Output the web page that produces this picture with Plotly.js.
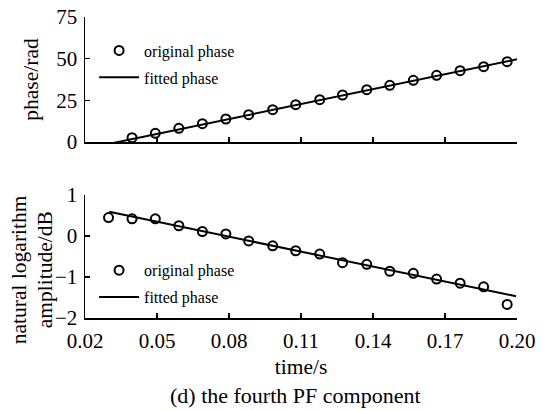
<!DOCTYPE html>
<html>
<head>
<meta charset="utf-8">
<script src="https://cdn.plot.ly/plotly-3.0.1.min.js"></script>
<style>html,body{margin:0;padding:0;background:#fff;}#chart{width:543px;height:410px;}</style>
</head>
<body>
<div id="chart"></div>
<script>
// time samples (s)
var timeAll = [0.0298, 0.0396, 0.0493, 0.0591, 0.0689, 0.0787, 0.0882, 0.0982, 0.1078, 0.1178, 0.1273, 0.1374, 0.1470, 0.1568, 0.1665, 0.1763, 0.1861, 0.1959];
// phase panel: original points (first sample hidden below axis, not shown)
var timePhase = timeAll.slice(1);
var phaseOriginal = [2.6, 5.2, 8.2, 11.0, 13.8, 16.4, 19.4, 22.4, 25.4, 28.2, 31.4, 34.0, 37.0, 40.0, 42.8, 45.2, 48.2];
var fitPhaseTime = [0.0304, 0.2000];
var fitPhaseValue = [-1.0, 49.6];
// log amplitude panel
var ampOriginal = [0.45, 0.42, 0.42, 0.25, 0.11, 0.05, -0.12, -0.24, -0.36, -0.44, -0.65, -0.69, -0.86, -0.91, -1.05, -1.15, -1.24, -1.67];
var fitAmpTime = [0.0301, 0.1996];
var fitAmpValue = [0.59, -1.47];
// ticks
var xTicks = [0.02, 0.05, 0.08, 0.11, 0.14, 0.17, 0.20];
var xTickText = ['0.02', '0.05', '0.08', '0.11', '0.14', '0.17', '0.20'];
var phaseTicks = [0, 25, 50, 75];
var ampTicks = [-2, -1, 0, 1];
var ampTickText = ['\u22122', '\u22121', '0', '1'];

var FONT = 'Liberation Serif, Times New Roman, serif';
var mk = {symbol: 'circle-open', size: 9, color: '#000', line: {width: 2, color: '#000'}};
var ln = {color: '#000', width: 2};

var traces = [
  {x: timePhase, y: phaseOriginal, mode: 'markers', name: 'original phase', marker: mk, xaxis: 'x', yaxis: 'y', legend: 'legend', legendgroup: 'a'},
  {x: fitPhaseTime, y: fitPhaseValue, mode: 'lines', name: 'fitted phase', line: ln, xaxis: 'x', yaxis: 'y', legend: 'legend', legendgroup: 'b'},
  {x: timeAll, y: ampOriginal, mode: 'markers', name: 'original phase', marker: mk, xaxis: 'x2', yaxis: 'y2', legend: 'legend2', legendgroup: 'c'},
  {x: fitAmpTime, y: fitAmpValue, mode: 'lines', name: 'fitted phase', line: ln, xaxis: 'x2', yaxis: 'y2', legend: 'legend2', legendgroup: 'd'}
];

var axisBase = {
  showline: true, linecolor: '#000', linewidth: 1.5, mirror: false,
  ticks: 'inside', ticklen: 5, tickwidth: 1.5, tickcolor: '#000',
  showgrid: false, zeroline: false,
  tickfont: {family: FONT, size: 21, color: '#000'}
};
function ax(extra) { return Object.assign({}, axisBase, extra); }

var legendBase = {
  font: {family: FONT, size: 16, color: '#000'},
  bgcolor: 'rgba(0,0,0,0)', borderwidth: 0,
  xanchor: 'left', yanchor: 'top', itemwidth: 40, tracegroupgap: 3
};

var titleFont = {family: FONT, size: 21.5, color: '#000'};

var layout = {
  width: 543, height: 410,
  margin: {l: 85, r: 26, t: 17, b: 92},
  paper_bgcolor: '#fff', plot_bgcolor: '#fff',
  font: {family: FONT, color: '#000'},
  showlegend: true,
  xaxis: ax({domain: [0, 1], range: [0.02, 0.20], tickvals: xTicks, ticktext: xTickText, showticklabels: false, anchor: 'y'}),
  yaxis: ax({domain: [0.5847, 1], range: [0, 75], tickvals: phaseTicks, anchor: 'x', ticklabelstandoff: 2,
    title: {text: 'phase/rad', font: titleFont, standoff: 12}}),
  xaxis2: ax({domain: [0, 1], range: [0.02, 0.20], tickvals: xTicks, ticktext: xTickText, anchor: 'y2', ticklabelstandoff: 3,
    title: {text: 'time/s', font: titleFont, standoff: 7}}),
  yaxis2: ax({domain: [0, 0.4086], range: [-2, 1], tickvals: ampTicks, ticktext: ampTickText, anchor: 'x2', ticklabelstandoff: 2}),
  legend: Object.assign({}, legendBase, {x: 0.021, y: 0.945}),
  legend2: Object.assign({}, legendBase, {x: 0.021, y: 0.215}),
  annotations: [
    {text: 'natural logarithm', xref: 'paper', yref: 'paper', x: -0.152, y: 0.16,
     xanchor: 'center', yanchor: 'middle', textangle: -90, showarrow: false, font: titleFont},
    {text: 'amplitude/dB', xref: 'paper', yref: 'paper', x: -0.094, y: 0.16,
     xanchor: 'center', yanchor: 'middle', textangle: -90, showarrow: false, font: titleFont},
    {text: '(d) the fourth PF component', xref: 'paper', yref: 'paper', x: 0.488, y: -0.257,
     xanchor: 'center', yanchor: 'middle', showarrow: false, font: {family: FONT, size: 22, color: '#000'}}
  ]
};

Plotly.newPlot('chart', traces, layout, {staticPlot: true, displayModeBar: false});
</script>
</body>
</html>
